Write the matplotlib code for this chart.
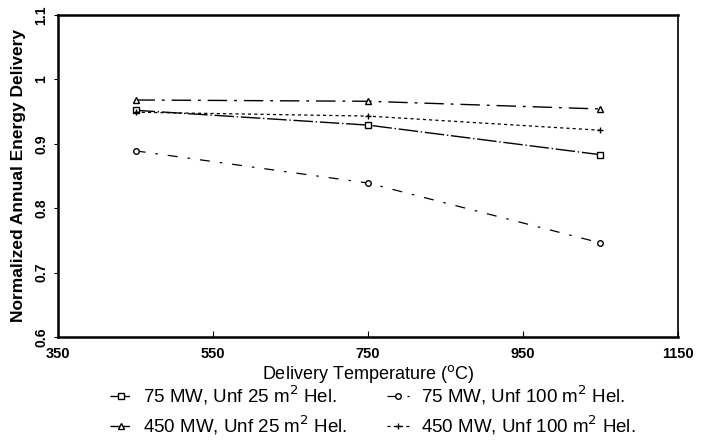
import numpy as np
import matplotlib
matplotlib.use("Agg")
from matplotlib import pyplot as plt

# delivery temperature (C)
temps = [450, 750, 1050]

# normalized annual energy delivery
mw75_25 = [0.952, 0.929, 0.883]
mw75_100 = [0.889, 0.839, 0.746]
mw450_25 = [0.968, 0.966, 0.954]
mw450_100 = [0.949, 0.943, 0.921]

labels = ["75 MW, Unf 25 m$^2$ Hel.", "75 MW, Unf 100 m$^2$ Hel.",
          "450 MW, Unf 25 m$^2$ Hel.", "450 MW, Unf 100 m$^2$ Hel."]

xticks = [350, 550, 750, 950, 1150]
yticks = [0.6, 0.7, 0.8, 0.9, 1.0, 1.1]
yticklabels = ["0.6", "0.7", "0.8", "0.9", "1", "1.1"]

plt.rcParams['font.family'] = ['Liberation Sans', 'DejaVu Sans']

fig = plt.figure(figsize=(7.04, 4.41), dpi=100)
ax = fig.add_axes([0.0824, 0.236, 0.8806, 0.730])

h1, = ax.plot(temps, mw75_25, color='black', lw=1.0, ls=(0, (14, 2, 1, 2)),
              marker='s', ms=4, mfc='white', mec='black', label=labels[0])
h2, = ax.plot(temps, mw75_100, color='black', lw=0.9, ls=(0, (8, 8, 2, 8)),
              marker='o', ms=4, mfc='white', mec='black', label=labels[1])
h3, = ax.plot(temps, mw450_25, color='black', lw=1.0, ls=(0, (14, 5, 2, 5)),
              marker='^', ms=4, mfc='white', mec='black', label=labels[2])
h4, = ax.plot(temps, mw450_100, color='black', lw=0.9, ls=(0, (2.5, 2.5)),
              marker='+', ms=4, mec='black', label=labels[3])

ax.set_xlim(350, 1150)
ax.set_ylim(0.6, 1.1)
ax.set_xticks(xticks)
ax.set_xticklabels([str(t) for t in xticks], fontweight='bold', fontsize=10.5)
ax.set_yticks(yticks)
ax.set_yticklabels(yticklabels, rotation=90, va='center', fontweight='bold', fontsize=10)
ax.tick_params(axis='x', direction='in', length=4, pad=7)
ax.tick_params(axis='y', direction='out', length=3, pad=4)

for side in ['left', 'bottom', 'top']:
    ax.spines[side].set_linewidth(1.8)
ax.spines['right'].set_linewidth(1.2)

ax.set_xlabel("Delivery Temperature ($^{\\rm o}$C)", fontsize=13, labelpad=2)
ax.set_ylabel("Normalized Annual Energy Delivery", fontsize=12.5, fontweight='bold',
              labelpad=6)

# row-wise order: 75 MW on top row, 450 MW on bottom row
fig.legend([h1, h3, h2, h4], [labels[0], labels[2], labels[1], labels[3]],
           loc='upper left', bbox_to_anchor=(0.145, 0.147), ncol=2, frameon=False,
           fontsize=13.5, handlelength=1.2, columnspacing=2.1, labelspacing=0.35,
           handletextpad=0.6, borderaxespad=0)

fig.savefig("out.png", dpi=100)
